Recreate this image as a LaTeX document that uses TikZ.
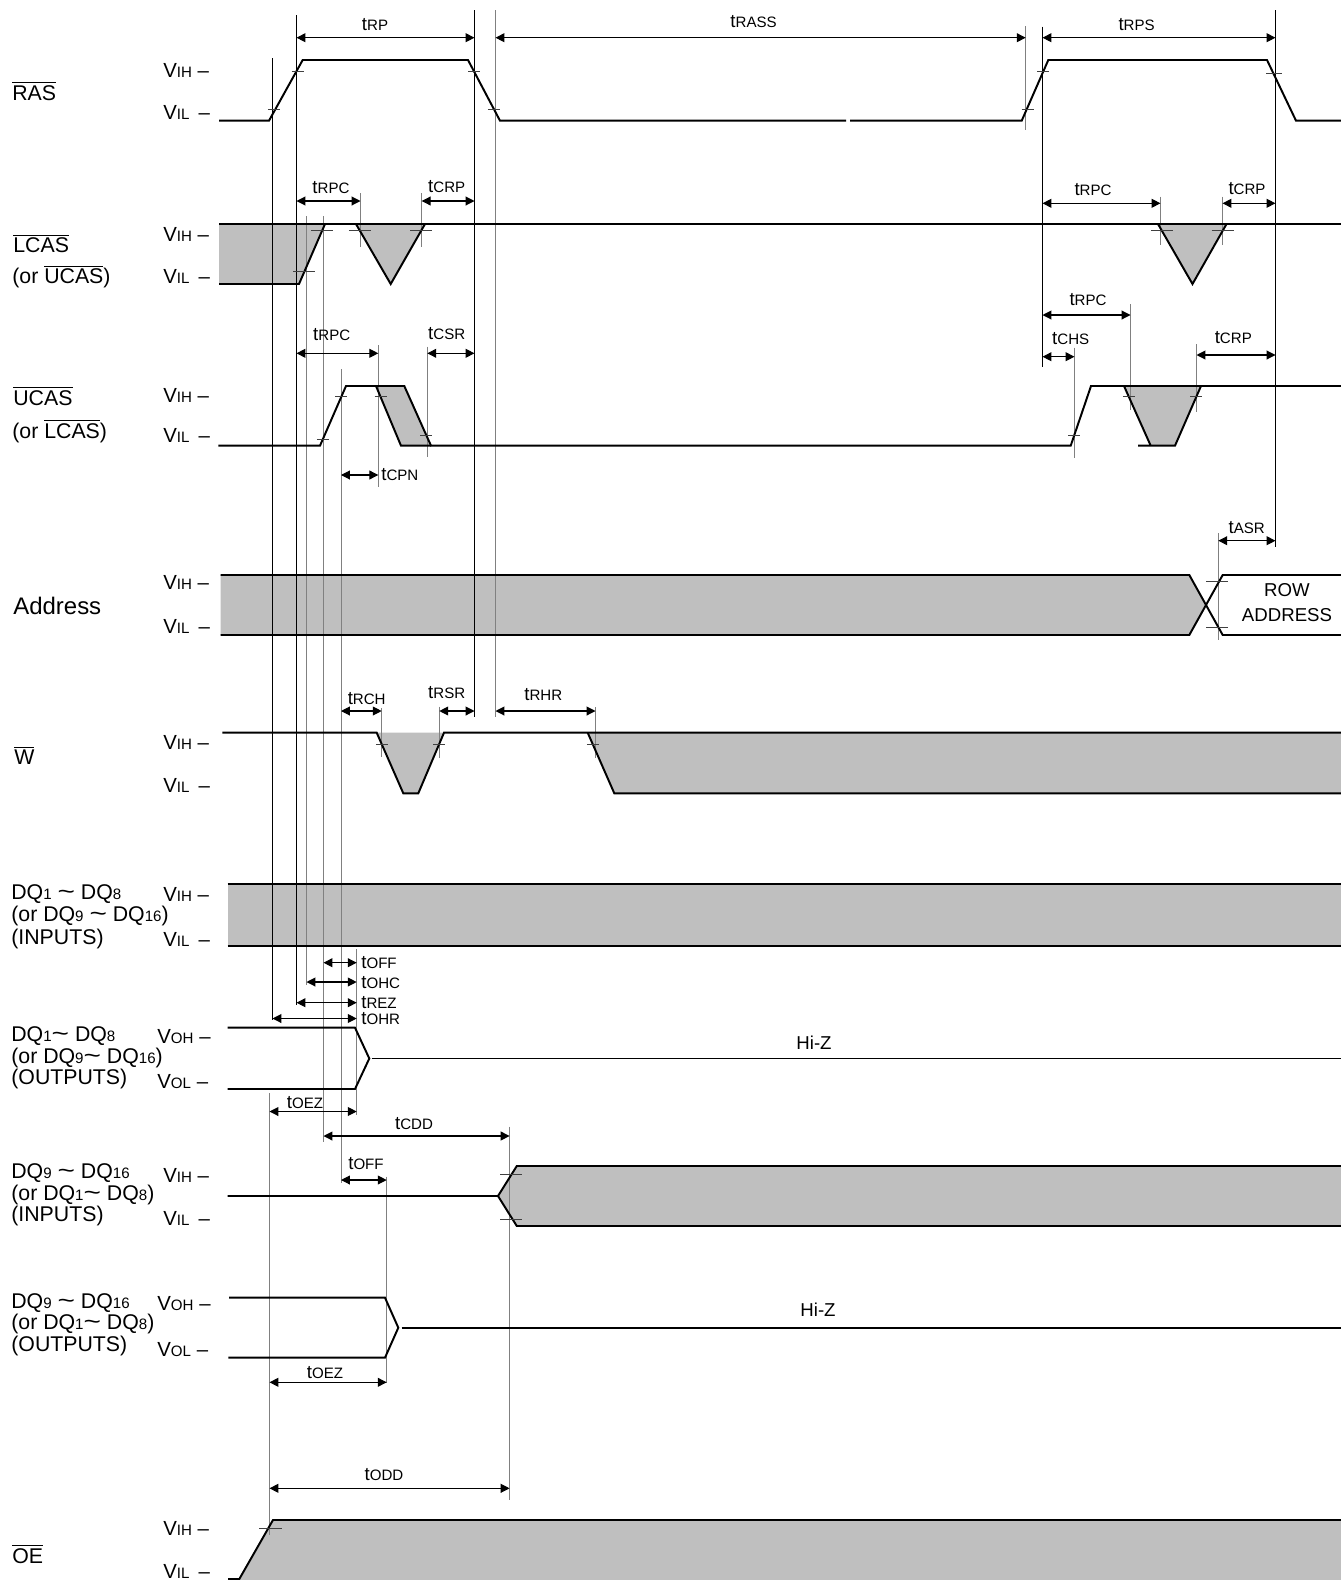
\documentclass[tikz,border=0pt]{standalone}
\usepackage{fontspec}
\setmainfont{Liberation Sans}
\usetikzlibrary{arrows.meta}
\newcommand{\lsub}[1]{{\fontsize{8.5}{10}\selectfont #1}}
\newcommand{\dsub}[1]{{\fontsize{8.5}{10}\selectfont #1}}
\newcommand{\ovl}[1]{$\overline{\mbox{#1}}$}
\newcommand{\tname}[1]{t\lsub{#1}}
\newcommand{\tld}{\scalebox{1.4}[1.1]{\textasciitilde}}

\begin{document}
\begin{tikzpicture}[x=0.0198cm, y=-0.0198cm,
		wave/.style={line width=1.1pt},
		band/.style={fill=black!25},
		refline/.style={line width=0.5pt},
		greyline/.style={line width=0.55pt, black!50},
		tickmark/.style={line width=0.5pt, black!75},
		dimarrow/.style={{Triangle[length=5pt,width=5pt]}-{Triangle[length=5pt,width=5pt]}, line width=0.6pt},
		signame/.style={anchor=west, align=left, inner sep=0pt, font=\fontsize{12}{12}\selectfont},
		level/.style={anchor=west, inner sep=0pt, font=\fontsize{11.5}{13}\selectfont},
		tlabel/.style={inner sep=0pt, font=\fontsize{10.5}{12}\selectfont},
		note/.style={inner sep=0pt, align=center, font=\fontsize{10.5}{13.9}\selectfont}
	]
	\useasboundingbox (0,0) rectangle (1341,1580);

	% shaded regions
	\fill[band] (219,224) -- (325,224) -- (299,284) -- (219,284) -- cycle;
	\fill[band] (356,224) -- (390.7,284) -- (425,224) -- cycle;
	\fill[band] (1158,224) -- (1192.5,284) -- (1226.5,224) -- cycle;
	\fill[band] (376,386) -- (404.3,386) -- (431,445.7) -- (401,445.7) -- cycle;
	\fill[band] (1124,386) -- (1201,386) -- (1175,445.7) -- (1150.7,445.7) -- cycle;
	\fill[band] (220.7,575) -- (1189.3,575) -- (1206,605) -- (1189.3,635) -- (220.7,635) -- cycle;
	\fill[band] (376.7,732.7) -- (403.3,793.3) -- (418.3,793.3) -- (444,732.7) -- cycle;
	\fill[band] (587.7,732.7) -- (1341,732.7) -- (1341,793.3) -- (614.3,793.3) -- cycle;
	\fill[band] (227.7,884.3) rectangle (1341,946);
	\fill[band] (498,1196) -- (516.8,1166) -- (1341,1166) -- (1341,1226) -- (516.8,1226) -- cycle;
	\fill[band] (238.7,1580) -- (273,1520) -- (1341,1520) -- (1341,1580) -- cycle;

	% timing reference lines
	\draw[refline] (272.5,58) -- (272.5,1020);
	\draw[refline] (296.5,15) -- (296.5,1005);
	\draw[refline] (474.5,10) -- (474.5,716.7);
	\draw[refline] (1042.5,26.7) -- (1042.5,367.3);
	\draw[refline] (1275.5,10) -- (1275.5,546.7);
	\draw[greyline] (306.5,216) -- (306.5,985);
	\draw[greyline] (323.5,216) -- (323.5,1141.7);
	\draw[greyline] (341,369) -- (341,1183.3);
	\draw[greyline] (495.5,10) -- (495.5,716.7);
	\draw[greyline] (1025.7,26) -- (1025.7,130);
	\draw[greyline] (356.7,949) -- (356.7,1115);
	\draw[greyline] (269.5,1093) -- (269.5,1535);
	\draw[greyline] (509.6,1126.7) -- (509.6,1500);
	\draw[greyline] (386.7,1176.7) -- (386.7,1383);
	\foreach \x/\a/\b in {360.5/193/247, 421.7/193/247, 1160.5/196.7/245, 1222.5/196.7/245,
		378.3/345/486.7, 427.3/346.7/456.7, 1074.5/347.7/458.3, 1130.5/304.3/410, 1196.5/344.3/411.7,
		1218.3/533.3/640, 381.7/708/756.7, 439.3/706.7/758.3, 595.5/707/758}
		\draw[greyline] (\x,\a) -- (\x,\b);

	% waveforms
	\draw[wave] (219,120.7) -- (269,120.7) -- (302.7,60) -- (468,60) -- (500,120.7) -- (846,120.7)
		(850,120.7) -- (1021.7,120.7) -- (1048.3,60) -- (1267,60) -- (1296,120.7) -- (1341,120.7);
	\draw[wave] (219,224) -- (1341,224);
	\draw[wave] (219,284) -- (299,284) -- (325,224);
	\draw[wave] (356,224) -- (390.7,284) -- (425,224);
	\draw[wave] (1158,224) -- (1192.5,284) -- (1226.5,224);
	\draw[wave] (218.3,445.7) -- (320,445.7) -- (346,386) -- (404.3,386) -- (431,445.7) -- (1070.7,445.7) -- (1091,386) -- (1341,386);
	\draw[wave] (376,386) -- (401,445.7) -- (431,445.7);
	\draw[wave] (1124,386) -- (1150.7,445.7);
	\draw[wave] (1138,445.7) -- (1175,445.7) -- (1201,386);
	\draw[wave] (220.7,575) -- (1189.3,575) -- (1222.7,635) -- (1341,635);
	\draw[wave] (220.7,635) -- (1189.3,635) -- (1222.7,575) -- (1341,575);
	\draw[wave] (222.3,732.7) -- (376.7,732.7) -- (403.3,793.3) -- (418.3,793.3) -- (444,732.7) -- (1341,732.7);
	\draw[wave] (587.7,732.7) -- (614.3,793.3) -- (1341,793.3);
	\draw[wave] (227.7,884.3) -- (1341,884.3);
	\draw[wave] (227.7,946) -- (1341,946);
	\draw[wave] (227.7,1027.7) -- (355,1027.7) -- (369.3,1058.5) -- (355,1089) -- (227.7,1089);
	\draw[wave] (371.7,1058.5) -- (1341,1058.5);
	\draw[wave] (227.5,1196) -- (498,1196) -- (516.8,1166) -- (1341,1166);
	\draw[wave] (498,1196) -- (516.8,1226) -- (1341,1226);
	\draw[wave] (229,1297.7) -- (385,1297.7) -- (398.3,1327.7) -- (385,1357.7) -- (228.3,1357.7);
	\draw[wave] (401.7,1327.7) -- (1341,1327.7);
	\draw[wave] (228,1579) -- (239.3,1579) -- (273,1520) -- (1341,1520);

	% level crossing ticks
	\foreach \x/\y/\h in {297.5/71.7/6, 273.8/109/6, 474.2/71.7/6, 493.8/109/6, 1027.7/109/6, 1043.3/71.7/6, 1274/73/8,
		322.1/230.7/11, 304.3/271.7/11, 359.9/230.7/11, 421.2/230.7/11, 1161.9/230.7/11, 1222.7/230.7/11,
		322.8/439.3/6, 341.3/396.7/6, 380.5/396.7/6, 426.2/435/6, 1074.3/435/6, 1128.8/396.7/6, 1196.3/396.7/6,
		1217/581.7/11, 1217/627.3/11, 381.8/744.3/6, 439.1/744.3/6, 592.8/744.3/6,
		511/1174/11, 511/1219/11, 270.5/1528.7/11.5}
		\draw[tickmark] (\x-\h,\y) -- (\x+\h,\y);

	% timing arrows
	\foreach \a/\b/\y in {296.5/474.5/37.7, 495.5/1025.7/37.7, 1042.5/1275.5/37.7,
		296.5/360.5/201, 421.7/474.5/201, 1042.5/1160.5/203.3, 1222.5/1275.5/203.3,
		296.5/378.3/353.3, 427.3/474.5/353.3, 341/378.3/475,
		1042.5/1130.5/315, 1042.5/1074.5/356.7, 1196.5/1275.5/355, 1218.3/1275.5/540.7,
		341/381.7/711, 439.3/474.5/711, 495.5/595.5/711,
		323.5/356.7/962.7, 306.5/356.7/982, 296.5/356.7/1002.7, 272.5/356.7/1018.5,
		269.5/356.7/1111.5, 323.5/509.6/1136, 341/386.7/1180, 269.5/386.7/1382.3, 269.5/509.6/1488.3}
		\draw[dimarrow] (\a,\y) -- (\b,\y);

	% timing labels
	\node[tlabel] (trp) at (375,25) {\tname{RP}};
	\node[tlabel] (trass) at (753.6,21.2) {\tname{RASS}};
	\node[tlabel] (trps) at (1136.6,24.2) {\tname{RPS}};
	\node[tlabel] (trpcA) at (331,187.7) {\tname{RPC}};
	\node[tlabel] (tcrpA) at (446.7,186.7) {\tname{CRP}};
	\node[tlabel] (trpcB) at (1093,189.4) {\tname{RPC}};
	\node[tlabel] (tcrpB) at (1247,189) {\tname{CRP}};
	\node[tlabel] (trpcC) at (331.7,334.3) {\tname{RPC}};
	\node[tlabel] (tcsr) at (446.7,334) {\tname{CSR}};
	\node[tlabel, anchor=west] (tcpn) at (381,475) {\tname{CPN}};
	\node[tlabel] (trpcD) at (1088,300) {\tname{RPC}};
	\node[tlabel] (tchs) at (1070.7,338.3) {\tname{CHS}};
	\node[tlabel] (tcrpC) at (1233.3,337.3) {\tname{CRP}};
	\node[tlabel] (tasr) at (1246.7,527.3) {\tname{ASR}};
	\node[tlabel] (trch) at (366.7,698.3) {\tname{RCH}};
	\node[tlabel] (trsr) at (446.7,692.7) {\tname{RSR}};
	\node[tlabel] (trhr) at (543.3,695) {\tname{RHR}};
	\node[tlabel, anchor=west] (toffA) at (361,962.7) {\tname{OFF}};
	\node[tlabel, anchor=west] (tohc) at (361,982.3) {\tname{OHC}};
	\node[tlabel, anchor=west] (trez) at (361,1002.2) {\tname{REZ}};
	\node[tlabel, anchor=west] (tohr) at (361,1019) {\tname{OHR}};
	\node[tlabel] (toezA) at (305,1102.3) {\tname{OEZ}};
	\node[tlabel] (tcdd) at (414,1123.3) {\tname{CDD}};
	\node[tlabel] (toffB) at (366,1163.5) {\tname{OFF}};
	\node[tlabel] (toezB) at (325,1373) {\tname{OEZ}};
	\node[tlabel] (todd) at (384,1474.5) {\tname{ODD}};

	% signal names
	\node[signame] (ras) at (12,91) {\ovl{RAS}};
	\node[signame] (lcas) at (13,243.3) {\ovl{LCAS}};
	\node[signame] (lcasor) at (12,276.7) {(or \ovl{UCAS})};
	\node[signame] (ucas) at (13,396) {\ovl{UCAS}};
	\node[signame] (ucasor) at (12,431) {(or \ovl{LCAS})};
	\node[signame, font=\fontsize{13.5}{14}\selectfont] (addr) at (13,605.5) {Address};
	\node[signame] (we) at (14,755.6) {\ovl{W}};
	\node[signame, font=\fontsize{12}{12.6}\selectfont] (dqlin) at (11,916.5)
		{DQ\dsub{1} \tld{} DQ\dsub{8}\\(or DQ\dsub{9} \tld{} DQ\dsub{16})\\(INPUTS)};
	\node[signame] (dqlout) at (11,1058)
		{DQ\dsub{1}\tld{} DQ\dsub{8}\\(or DQ\dsub{9}\tld{} DQ\dsub{16})\\(OUTPUTS)};
	\node[signame] (dquin) at (11,1195)
		{DQ\dsub{9} \tld{} DQ\dsub{16}\\(or DQ\dsub{1}\tld{} DQ\dsub{8})\\(INPUTS)};
	\node[signame] (dquout) at (11,1324.5)
		{DQ\dsub{9} \tld{} DQ\dsub{16}\\(or DQ\dsub{1}\tld{} DQ\dsub{8})\\(OUTPUTS)};
	\node[signame] (oe) at (12,1554) {\ovl{OE}};

	% logic levels
	\foreach \y/\n in {70/1, 234.3/2, 395/3, 582.7/4, 742.7/5, 894.3/6, 1175/7, 1528.3/8}
		\node[level] (vih\n) at (163,\y) {V\lsub{IH} –};
	\foreach \y/\n in {112.5/1, 276.7/2, 435/3, 626/4, 785/5, 939.3/6, 1218/7, 1571.7/8}
		\node[level] (vil\n) at (163,\y) {V\lsub{IL} \,–};
	\node[level] (vohA) at (157,1036.7) {V\lsub{OH} –};
	\node[level] (volA) at (157,1081.7) {V\lsub{OL} –};
	\node[level] (vohB) at (157,1303.3) {V\lsub{OH} –};
	\node[level] (volB) at (157,1349.3) {V\lsub{OL} –};

	% notes
	\node[note] (rowaddr) at (1287,602.5) {ROW\\ADDRESS};
	\node[note] (hizA) at (814,1042.8) {Hi-Z};
	\node[note] (hizB) at (818,1309.7) {Hi-Z};
\end{tikzpicture}
\end{document}
